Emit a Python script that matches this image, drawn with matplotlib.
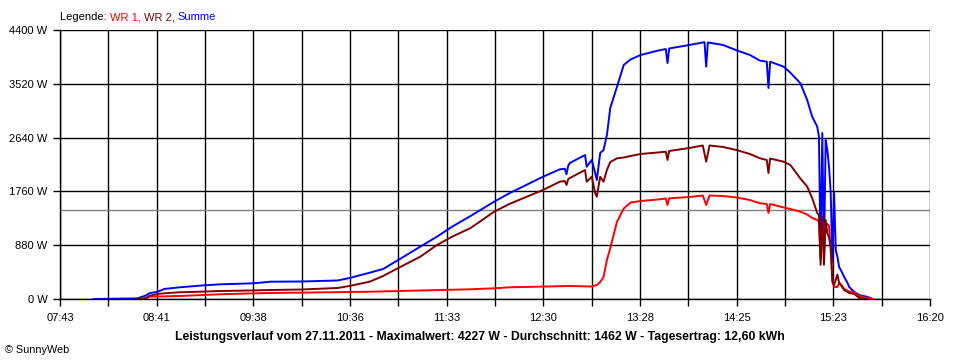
import numpy as np
import matplotlib
matplotlib.use("Agg")
import matplotlib.pyplot as plt
from matplotlib.ticker import FixedLocator, FixedFormatter

# ---------------- data ----------------
x_tick_labels = ["07:43", "08:41", "09:38", "10:36", "11:33", "12:30",
                 "13:28", "14:25", "15:23", "16:20"]
y_ticks = [0, 880, 1760, 2640, 3520, 4400]
y_tick_labels = ["0 W", "880 W", "1760 W", "2640 W", "3520 W", "4400 W"]
average_w = 1462

summe_t = ["08:03", "08:29", "08:34", "08:36", "08:41", "08:45", "08:54", "09:06", "09:18",
           "09:30", "09:38", "09:48", "10:06", "10:28", "10:35", "10:47", "10:55", "11:04",
           "11:17", "11:27", "11:36", "11:47", "12:01", "12:10", "12:30", "12:40", "12:43",
           "12:44", "12:45", "12:46", "12:55", "12:56", "12:59", "13:01", "13:02", "13:04",
           "13:06", "13:08", "13:10", "13:14", "13:18", "13:22", "13:28", "13:38", "13:43",
           "13:44", "13:45", "13:57", "14:05", "14:06", "14:07", "14:08", "14:17", "14:25",
           "14:33", "14:39", "14:43", "14:44", "14:45", "14:53", "14:57", "15:03", "15:07",
           "15:10", "15:13", "15:14", "15:15", "15:16", "15:17", "15:18", "15:19", "15:20",
           "15:21", "15:22", "15:23", "15:24", "15:25", "15:26", "15:27", "15:29", "15:31",
           "15:32", "15:35", "15:38", "15:43", "15:46"]
summe_w = [0, 10, 57, 93, 119, 164, 191, 218, 240,
           250, 257, 283, 286, 303, 343, 430, 491, 638,
           855, 1019, 1183, 1358, 1592, 1729, 2000, 2121, 2130,
           2040, 2180, 2225, 2355, 2164, 2274, 2061, 1946, 2388,
           2437, 2683, 3124, 3473, 3828, 3917, 3991, 4061, 4089,
           3860, 4098, 4155, 4196, 4200, 3800, 4196, 4155, 4068,
           3991, 3898, 3882, 3451, 3882, 3800, 3702, 3528, 3255,
           2982, 2818, 2655, 687, 2715, 687, 2600, 2437, 2164,
           1734, 605, 1734, 800, 687, 524, 474, 360, 262,
           196, 115, 65, 33, 0]

wr2_t = ["08:29", "08:34", "08:36", "08:41", "08:45", "08:54", "09:06", "09:18", "09:30",
         "09:48", "10:06", "10:28", "10:35", "10:47", "10:55", "11:04", "11:17", "11:27",
         "11:36", "11:47", "12:01", "12:10", "12:30", "12:40", "12:43", "12:44", "12:45",
         "12:46", "12:55", "12:56", "12:59", "13:01", "13:02", "13:04", "13:06", "13:08",
         "13:10", "13:14", "13:18", "13:22", "13:28", "13:38", "13:43", "13:44", "13:45",
         "13:57", "14:05", "14:07", "14:09", "14:17", "14:25", "14:33", "14:39", "14:43",
         "14:44", "14:45", "14:53", "14:57", "15:03", "15:07", "15:10", "15:13", "15:14",
         "15:15", "15:16", "15:17", "15:18", "15:19", "15:20", "15:21", "15:22", "15:23",
         "15:24", "15:25", "15:26", "15:27", "15:29", "15:32", "15:35", "15:38", "15:43"]
wr2_w = [0, 16, 49, 82, 93, 110, 119, 131, 136,
         147, 155, 180, 213, 283, 376, 507, 690, 883,
         1019, 1161, 1428, 1554, 1783, 1919, 1930, 1865, 1960,
         1979, 2110, 1919, 2000, 1734, 1673, 2000, 1919, 2110,
         2241, 2301, 2315, 2339, 2372, 2396, 2409, 2274, 2421,
         2470, 2511, 2246, 2511, 2486, 2437, 2372, 2301, 2274,
         2061, 2298, 2246, 2192, 1970, 1840, 1650, 1407, 1374,
         560, 1341, 560, 1290, 1080, 998, 860, 278, 230,
         311, 400, 262, 229, 147, 98, 82, 16, 0]

wr1_t = ["08:34", "08:36", "08:41", "08:54", "09:18", "09:38", "09:48", "10:47", "11:47",
         "12:01", "12:10", "12:46", "12:59", "13:02", "13:04", "13:06", "13:08", "13:10",
         "13:14", "13:18", "13:22", "13:28", "13:38", "13:43", "13:44", "13:45", "13:57",
         "14:05", "14:07", "14:09", "14:17", "14:25", "14:33", "14:39", "14:43", "14:44",
         "14:45", "14:53", "14:57", "15:03", "15:07", "15:10", "15:13", "15:14", "15:15",
         "15:16", "15:17", "15:18", "15:19", "15:20", "15:21", "15:22", "15:23", "15:25",
         "15:26", "15:27", "15:29", "15:32", "15:35", "15:38", "15:43", "15:46"]
wr1_w = [0, 38, 41, 49, 77, 93, 98, 119, 159,
         175, 191, 213, 204, 229, 278, 360, 638, 834,
         1264, 1480, 1578, 1603, 1627, 1644, 1538, 1647, 1668,
         1693, 1538, 1693, 1685, 1660, 1619, 1565, 1554, 1407,
         1554, 1497, 1472, 1428, 1382, 1325, 1292, 1260, 650,
         1276, 965, 1243, 1227, 1194, 801, 311, 196, 196,
         262, 245, 164, 123, 106, 49, 16, 0]

title_text = ("Leistungsverlauf vom 27.11.2011 - Maximalwert: 4227 W - "
              "Durchschnitt: 1462 W - Tagesertrag: 12,60 kWh")


def to_min(s):
    h, m = s.split(":")
    return int(h) * 60 + int(m)


# ---------------- figure ----------------
plt.rcParams['font.family'] = ['Liberation Sans', 'DejaVu Sans']
fig = plt.figure(figsize=(9.6, 3.6), dpi=100)
ax = fig.add_axes([60 / 960, 61 / 360, 870 / 960, 269 / 360])

t0 = to_min(x_tick_labels[0])
t1 = to_min(x_tick_labels[-1])
major = np.linspace(t0, t1, len(x_tick_labels))
minor = (major[:-1] + major[1:]) / 2

ax.set_xlim(t0, t1)
ax.set_ylim(0, y_ticks[-1])

ax.xaxis.set_major_locator(FixedLocator(major))
ax.xaxis.set_major_formatter(FixedFormatter(x_tick_labels))
ax.xaxis.set_minor_locator(FixedLocator(minor))
ax.set_yticks(y_ticks)
ax.set_yticklabels(y_tick_labels)

ax.grid(True, which='both', axis='x', color='black', linewidth=1.0)
ax.grid(True, which='major', axis='y', color='black', linewidth=1.0)
ax.set_axisbelow(True)

for side in ['top', 'right']:
    ax.spines[side].set_visible(False)
for side in ['left', 'bottom']:
    ax.spines[side].set_color('black')
    ax.spines[side].set_linewidth(1.0)

ax.tick_params(axis='both', which='both', direction='out', length=5, width=1,
               color='black', labelsize=8, pad=4)
ax.tick_params(axis='x', which='both', pad=5)

ax.axhline(average_w, color='#808080', linewidth=1.0, zorder=1.5)

ax.plot([to_min(t) for t in summe_t], summe_w, color='#0000ff', linewidth=1.4, zorder=3)
ax.plot([to_min(t) for t in wr1_t], wr1_w, color='#ff0000', linewidth=1.4, zorder=4)
ax.plot([to_min(t) for t in wr2_t], wr2_w, color='#800000', linewidth=1.4, zorder=5)

# legend line at top
fsz = 8
ty = 1 - 17 / 360
parts = [("Legende: ", 'black'), ("WR 1, ", '#ff0000'), ("WR 2, ", '#800000'),
         ("Summe", '#0000ff')]
renderer = fig.canvas.get_renderer()
xpos = 60 / 960
for txt, col in parts:
    tobj = fig.text(xpos, ty, txt, color=col, fontsize=fsz, ha='left', va='center')
    bb = tobj.get_window_extent(renderer=renderer)
    xpos += bb.width / 960

fig.text(480 / 960, 1 - 337 / 360, title_text, fontsize=8.8, fontweight='bold',
         ha='center', va='center')
fig.text(5 / 960, 1 - 350 / 360, "\u00a9 SunnyWeb", fontsize=7.8, ha='left', va='center')

fig.savefig("out.png", dpi=100)
